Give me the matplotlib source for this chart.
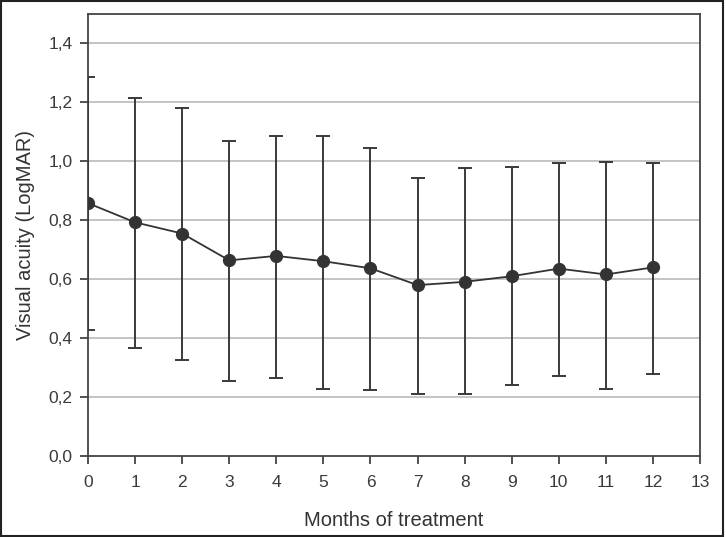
import matplotlib
matplotlib.use('Agg')
import matplotlib.pyplot as plt
from matplotlib.patches import Rectangle
from matplotlib.ticker import FuncFormatter

plt.rcParams['font.family'] = ['Liberation Sans', 'DejaVu Sans']

# data
months = [0, 1, 2, 3, 4, 5, 6, 7, 8, 9, 10, 11, 12]
mean_va = [0.858, 0.793, 0.755, 0.664, 0.679, 0.661, 0.637, 0.580, 0.591, 0.610, 0.636, 0.616, 0.640]
upper_va = [1.286, 1.215, 1.181, 1.069, 1.086, 1.087, 1.046, 0.945, 0.976, 0.982, 0.994, 0.999, 0.994]
lower_va = [0.426, 0.367, 0.325, 0.253, 0.265, 0.229, 0.225, 0.212, 0.210, 0.240, 0.272, 0.227, 0.278]

err_low = [m - l for m, l in zip(mean_va, lower_va)]
err_high = [u - m for m, u in zip(mean_va, upper_va)]

fig = plt.figure(figsize=(7.26, 5.37), dpi=100)
ax = fig.add_axes([0.1212, 0.1508, 0.843, 0.8232])

# grid lines
for y in [0.2, 0.4, 0.6, 0.8, 1.0, 1.2, 1.4]:
    ax.axhline(y, color='#b4b4b4', lw=1.1, zorder=0)

ax.errorbar(months, mean_va, yerr=[err_low, err_high], fmt='-o', color='#333333',
            ecolor='#3a3a3a', elinewidth=1.4, capsize=4.8, capthick=1.4,
            markersize=8.5, lw=1.3, zorder=3)

ax.set_xlim(0, 13)
ax.set_ylim(0, 1.5)
ax.set_xticks(range(0, 14))
ax.set_yticks([0.0, 0.2, 0.4, 0.6, 0.8, 1.0, 1.2, 1.4])
ax.yaxis.set_major_formatter(FuncFormatter(lambda v, p: f'{v:.1f}'.replace('.', ',')))

for s in ax.spines.values():
    s.set_color('#444444')
    s.set_linewidth(1.3)
ax.tick_params(direction='out', length=6, width=1.3, color='#444444',
               labelsize=12.5, labelcolor='#3a3a3a', pad=5)
ax.tick_params(axis='x', pad=8)

ax.set_xlabel('Months of treatment', fontsize=14.5, color='#333333', labelpad=15)
ax.set_ylabel('Visual acuity (LogMAR)', fontsize=14.5, color='#333333', labelpad=10)

# outer frame of the picture
fig.patches.append(Rectangle((0.002, 0.002), 0.994, 0.996, transform=fig.transFigure,
                             fill=False, edgecolor='#222222', lw=1.5))

fig.savefig('out.png', dpi=100)
